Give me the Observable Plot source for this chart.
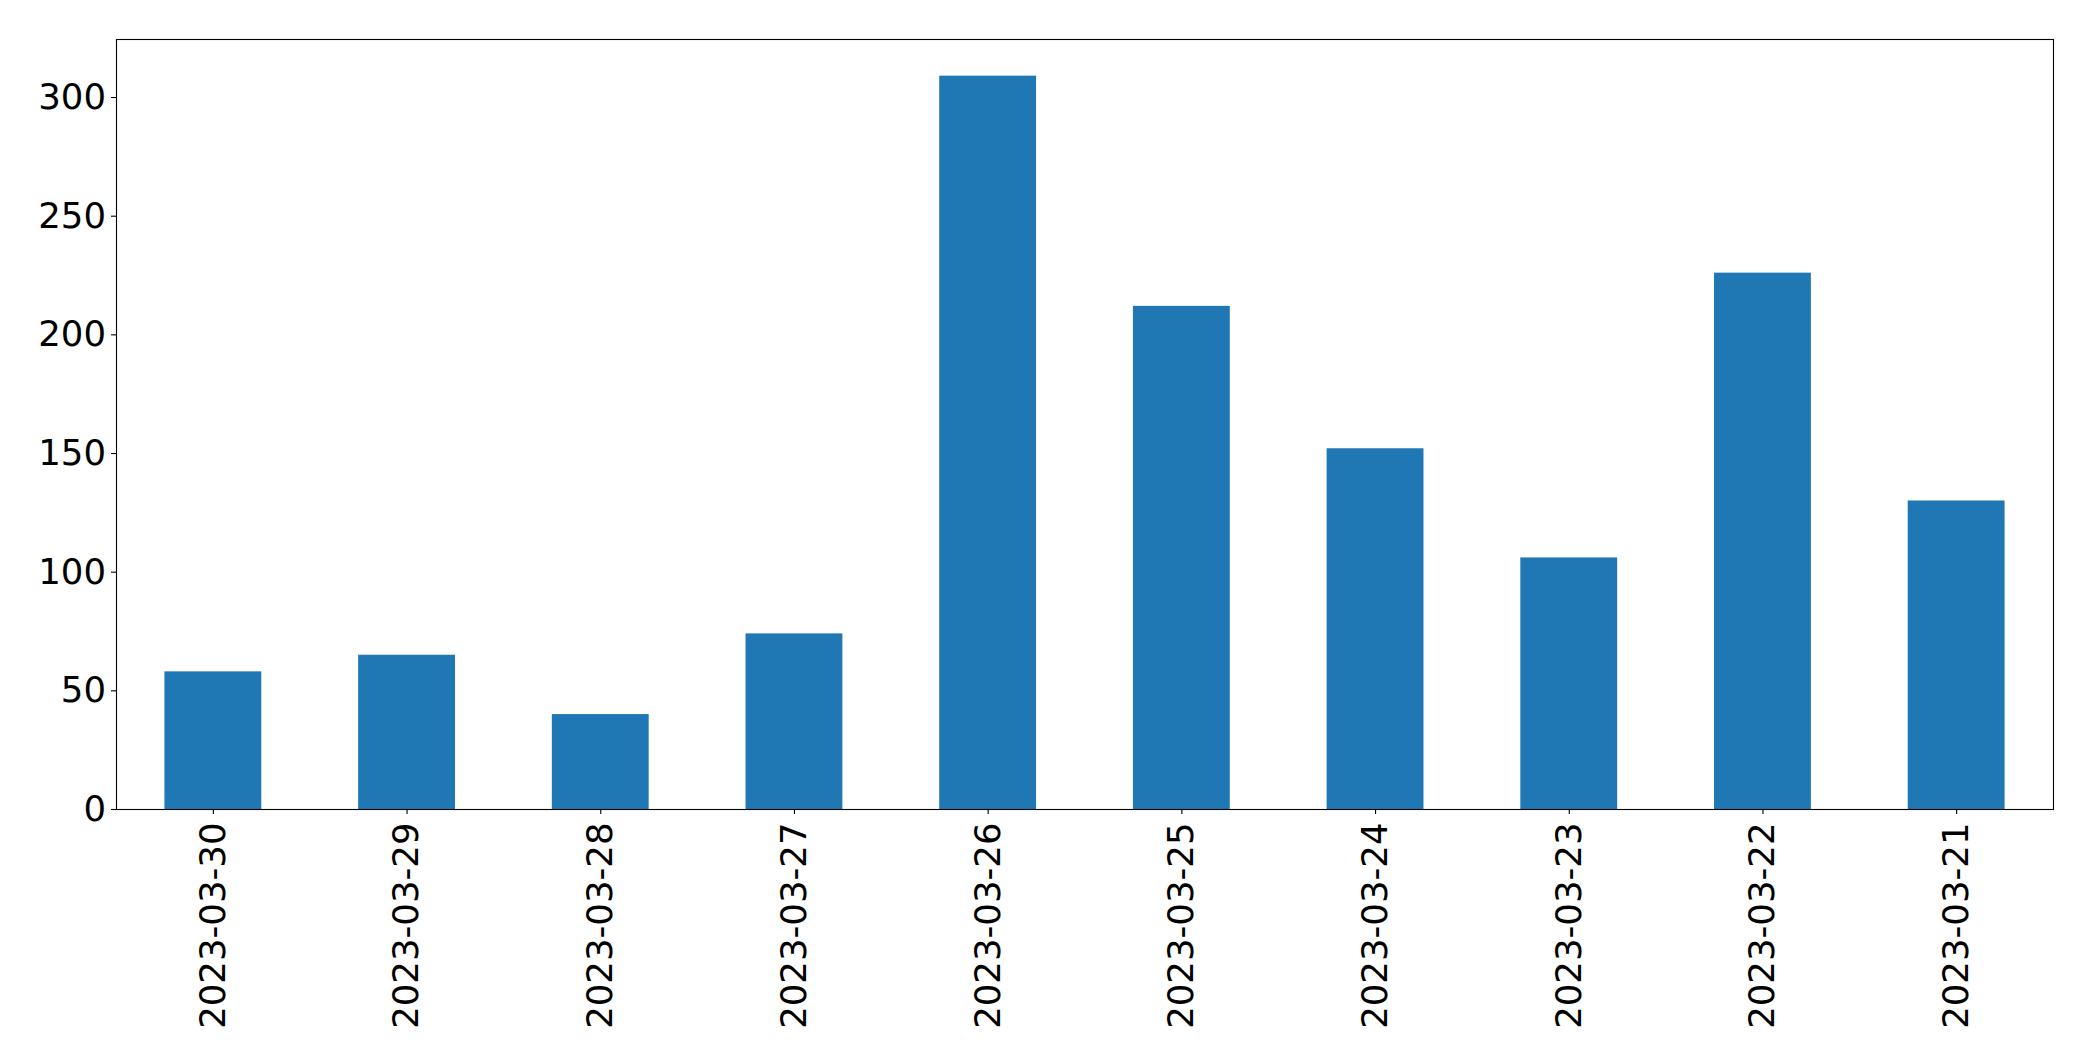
<!DOCTYPE html>
<html>
<head>
<meta charset="utf-8">
<script src="https://cdn.jsdelivr.net/npm/d3@7"></script>
<script src="https://cdn.jsdelivr.net/npm/@observablehq/plot@0.6"></script>
<style>
  html, body { margin: 0; padding: 0; background: #ffffff; }
  #chart svg { display: block; }
</style>
</head>
<body>
<div id="chart"></div>
<script>
const dates = ["2023-03-30", "2023-03-29", "2023-03-28", "2023-03-27", "2023-03-26",
               "2023-03-25", "2023-03-24", "2023-03-23", "2023-03-22", "2023-03-21"];
const counts = [58, 65, 40, 74, 309, 212, 152, 106, 226, 130];
const yTicks = [0, 50, 100, 150, 200, 250, 300];

const data = dates.map((d, i) => ({date: d, count: counts[i]}));
const yMax = d3.max(counts) * 1.05;

const chart = Plot.plot({
  width: 2093,
  height: 1061,
  marginLeft: 116,
  marginRight: 40,
  marginTop: 39,
  marginBottom: 252,
  style: {
    fontFamily: "'DejaVu Sans', sans-serif",
    fontSize: "35px",
    color: "#000000",
    background: "#ffffff",
    overflow: "visible"
  },
  x: {type: "band", domain: dates, paddingInner: 0.5, paddingOuter: 0.25, round: false, label: null},
  y: {domain: [0, yMax], label: null},
  marks: [
    Plot.barY(data, {x: "date", y: "count", fill: "#1f77b4"}),
    Plot.frame({stroke: "#000000", strokeWidth: 1.1}),
    Plot.axisY({ticks: yTicks, tickSize: 5, tickPadding: 5.5, fontSize: 35.5, label: null, stroke: "#000000", strokeWidth: 1.1}),
    Plot.axisX({tickRotate: -90, tickSize: 5, tickPadding: 8, fontSize: 35.5, label: null, stroke: "#000000", strokeWidth: 1.1})
  ]
});
document.getElementById("chart").appendChild(chart);
</script>
</body>
</html>
